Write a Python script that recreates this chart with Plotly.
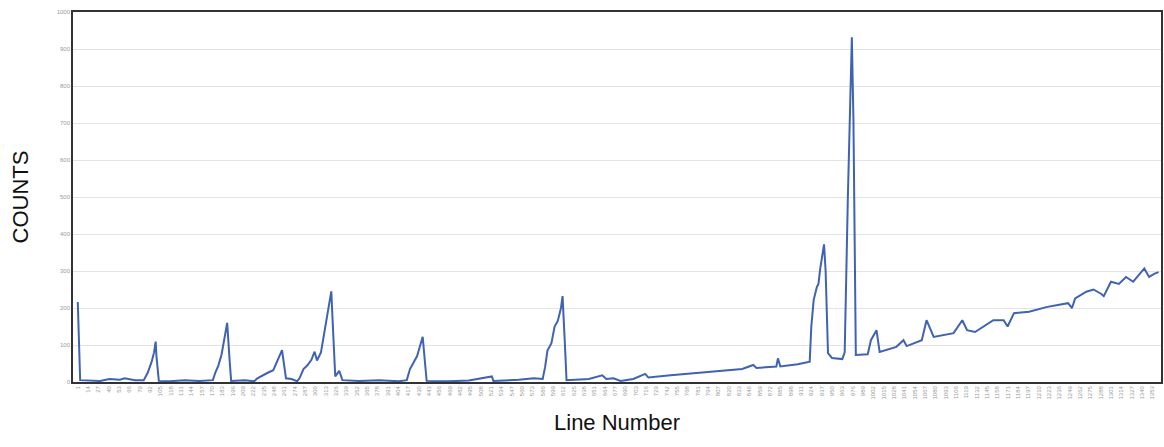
import plotly.graph_objects as go

# Line numbers (x) and counts (y)
line_number = [1, 4, 29, 41, 54, 60, 73, 84, 89, 94, 97, 99, 100, 103, 117, 136, 154,
               171, 174, 178, 182, 184, 189, 192, 194, 211, 223, 227, 233, 240, 247,
               252, 258, 261, 263, 270, 277, 280, 285, 290, 295, 299, 302, 307, 312,
               316, 320, 322, 325, 330, 334, 355, 380, 405, 415, 419, 424, 428, 432,
               435, 438, 440, 468, 493, 522, 524, 556, 575, 586, 589, 592, 597, 601,
               605, 609, 611, 614, 616, 644, 654, 661, 666, 675, 684, 700, 715, 719,
               747, 782, 807, 837, 851, 855, 880, 882, 885, 907, 922, 924, 927, 931,
               933, 935, 940, 942, 945, 950, 963, 966, 970, 972, 975, 977, 980, 995,
               999, 1006, 1010, 1031, 1040, 1044, 1063, 1069, 1074, 1078, 1103, 1114,
               1120, 1130, 1153, 1166, 1171, 1179, 1198, 1221, 1247, 1252, 1256, 1270,
               1279, 1289, 1292, 1301, 1311, 1320, 1329, 1343, 1349, 1356, 1361]
counts = [216, 5, 3, 8, 6, 10, 5, 5, 25, 55, 80, 109, 70, 3, 2, 5, 3,
          5, 25, 45, 75, 100, 160, 60, 3, 5, 2, 10, 18, 25, 32,
          55, 86, 40, 10, 8, 2, 10, 35, 45, 60, 82, 58, 80, 140,
          190, 245, 150, 15, 30, 5, 3, 5, 2, 5, 35, 55, 70, 100,
          122, 50, 3, 2, 4, 15, 3, 6, 10, 8, 40, 85, 105, 150,
          165, 200, 232, 100, 5, 8, 15, 18, 8, 10, 3, 8, 22, 12,
          18, 25, 30, 35, 46, 38, 42, 64, 42, 48, 55, 150, 222, 257,
          265, 303, 372, 300, 78, 65, 62, 80, 500, 708, 932, 708, 73, 75,
          113, 140, 81, 95, 113, 97, 113, 167, 140, 122, 132, 167,
          140, 135, 167, 167, 150, 186, 190, 203, 213, 200, 226, 244,
          250, 238, 232, 271, 265, 284, 271, 307, 284, 293, 297]

x_tick_values = list(range(1, 1362, 13))
x_tick_labels = [str(v) for v in x_tick_values]
y_tick_values = list(range(0, 1001, 100))

fig = go.Figure()
fig.add_trace(go.Scatter(
    x=line_number, y=counts, mode="lines",
    line=dict(color="#3f62b2", width=2),
    showlegend=False,
))

fig.update_layout(
    width=1164, height=447,
    margin=dict(l=73, r=1, t=12, b=65),
    paper_bgcolor="white", plot_bgcolor="white",
    font=dict(family="Liberation Sans, Arial, sans-serif"),
)
fig.update_xaxes(
    range=[-5, 1364],
    tickmode="array", tickvals=x_tick_values, ticktext=x_tick_labels,
    tickangle=-90, tickfont=dict(size=6, color="#999999"),
    showgrid=False, zeroline=False,
    showline=True, linecolor="#333333", linewidth=1.5, mirror=True,
    ticks="", ticklen=0,
    title=dict(text="Line Number", font=dict(size=22, color="#111111"), standoff=16),
)
fig.update_yaxes(
    range=[0, 1000],
    tickmode="array", tickvals=y_tick_values,
    tickfont=dict(size=6, color="#999999"),
    showgrid=True, gridcolor="#e3e3e3", gridwidth=1, zeroline=False,
    showline=True, linecolor="#333333", linewidth=1.5, mirror=True,
    ticks="",
    title=dict(text="COUNTS", font=dict(size=22, color="#111111"), standoff=22),
)

fig.write_html("out.html")
